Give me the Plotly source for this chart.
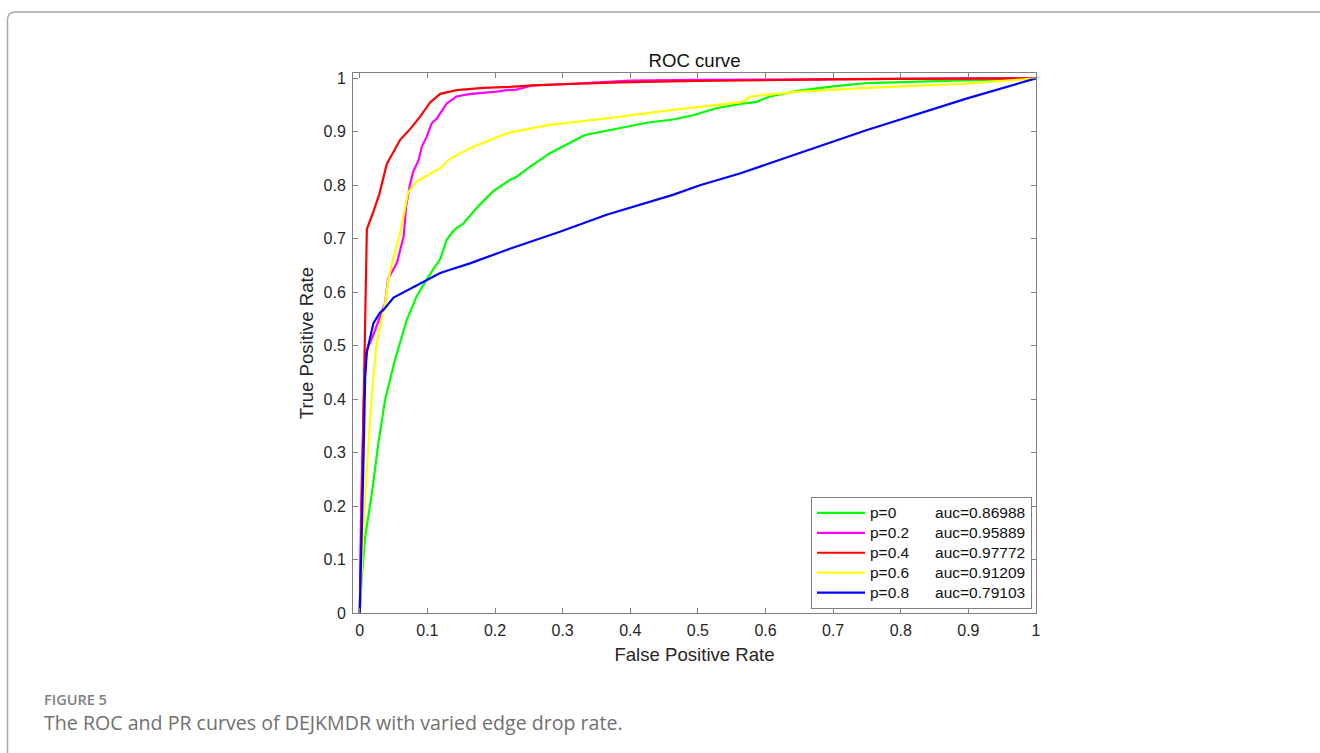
import plotly.graph_objects as go

# ---------------- data ----------------
labels = ["p=0", "p=0.2", "p=0.4", "p=0.6", "p=0.8"]
aucs = ["0.86988", "0.95889", "0.97772", "0.91209", "0.79103"]
colors = ["#00ff00", "#ff00ff", "#ff0000", "#ffff00", "#0000ff"]

fpr_p0 = [0, 0.003, 0.008, 0.018, 0.0276, 0.0375, 0.052, 0.0695, 0.084, 0.1015, 0.119, 0.1286,
          0.138, 0.143, 0.153, 0.173, 0.1975, 0.222, 0.232, 0.252, 0.281, 0.308, 0.333, 0.365,
          0.3945, 0.424, 0.463, 0.493, 0.527, 0.562, 0.587, 0.606, 0.65, 0.70, 0.749, 0.847, 1.0]
tpr_p0 = [0, 0.068, 0.143, 0.224, 0.318, 0.399, 0.473, 0.548, 0.592, 0.629, 0.662, 0.698,
          0.714, 0.72, 0.728, 0.758, 0.789, 0.81, 0.816, 0.835, 0.860, 0.878, 0.894, 0.902,
          0.910, 0.917, 0.923, 0.931, 0.944, 0.952, 0.956, 0.966, 0.977, 0.985, 0.991, 0.995, 1.0]

fpr_p2 = [0, 0.002, 0.006, 0.0095, 0.02, 0.03, 0.0375, 0.042, 0.05, 0.055, 0.062, 0.065, 0.0685,
          0.074, 0.079, 0.087, 0.0917, 0.099, 0.1065, 0.114, 0.1286, 0.143, 0.16, 0.173, 0.2025,
          0.217, 0.232, 0.256, 0.3, 0.35, 0.4, 0.5, 0.6, 0.7, 0.8, 0.9, 1.0]
tpr_p2 = [0, 0.2, 0.4, 0.49, 0.52, 0.555, 0.58, 0.625, 0.642, 0.655, 0.69, 0.705, 0.76,
          0.80, 0.825, 0.847, 0.872, 0.891, 0.916, 0.925, 0.953, 0.966, 0.970, 0.972, 0.975,
          0.978, 0.979, 0.987, 0.989, 0.993, 0.996, 0.997, 0.998, 0.999, 0.999, 1.0, 1.0]

fpr_p4 = [0, 0.002, 0.005, 0.007, 0.009, 0.0105, 0.02, 0.029, 0.04, 0.05, 0.0597, 0.0744, 0.089,
          0.104, 0.119, 0.143, 0.183, 0.222, 0.256, 0.3, 0.4, 0.5, 0.6, 0.7, 0.8, 0.9, 1.0]
tpr_p4 = [0, 0.15, 0.35, 0.5, 0.65, 0.718, 0.75, 0.784, 0.840, 0.862, 0.885, 0.905, 0.928,
          0.955, 0.971, 0.978, 0.982, 0.984, 0.987, 0.989, 0.993, 0.995, 0.997, 0.998, 0.999, 1.0, 1.0]

fpr_p6 = [0, 0.0046, 0.008, 0.013, 0.018, 0.025, 0.0375, 0.0424, 0.047, 0.0597, 0.067, 0.0715,
          0.084, 0.104, 0.119, 0.1335, 0.168, 0.217, 0.227, 0.281, 0.365, 0.463, 0.503, 0.537,
          0.567, 0.577, 0.65, 0.749, 0.897, 1.0]
tpr_p6 = [0, 0.131, 0.224, 0.318, 0.411, 0.505, 0.58, 0.623, 0.651, 0.710, 0.754, 0.787,
          0.807, 0.822, 0.832, 0.850, 0.872, 0.897, 0.900, 0.913, 0.925, 0.941, 0.947, 0.952,
          0.956, 0.966, 0.975, 0.982, 0.990, 1.0]

fpr_p8 = [0, 0.003, 0.0055, 0.008, 0.0105, 0.018, 0.0202, 0.030, 0.035, 0.050, 0.079, 0.104,
          0.119, 0.1335, 0.163, 0.217, 0.296, 0.365, 0.463, 0.503, 0.562, 0.749, 0.897, 1.0]
tpr_p8 = [0, 0.131, 0.287, 0.442, 0.488, 0.530, 0.542, 0.562, 0.567, 0.590, 0.610, 0.626,
          0.636, 0.642, 0.654, 0.679, 0.713, 0.745, 0.782, 0.800, 0.822, 0.903, 0.962, 1.0]

tick_vals = [0, 0.1, 0.2, 0.3, 0.4, 0.5, 0.6, 0.7, 0.8, 0.9, 1]
tick_text = ["0", "0.1", "0.2", "0.3", "0.4", "0.5", "0.6", "0.7", "0.8", "0.9", "1"]

title_text = "ROC curve"
xlabel = "False Positive Rate"
ylabel = "True Positive Rate"
fig_label = "FIGURE 5"
caption = "The ROC and PR curves of DEJKMDR with varied edge drop rate."

# ---------------- figure ----------------
W, H = 1320, 753
L, R, T, B = 353, 284, 73, 140
PW, PH = W - L - R, H - T - B
FONT = "Liberation Sans, Arial, sans-serif"


def px_x(px):
    return (px - L) / PW


def px_y(py):
    return (H - B - py) / PH


NB = "\u00a0"
pad = {"p=0": 9, "p=0.2": 6, "p=0.4": 6, "p=0.6": 6, "p=0.8": 6}

series = [(fpr_p0, tpr_p0), (fpr_p2, tpr_p2), (fpr_p4, tpr_p4), (fpr_p6, tpr_p6), (fpr_p8, tpr_p8)]

fig = go.Figure()
for (xs, ys), lab, auc, col in zip(series, labels, aucs, colors):
    fig.add_trace(go.Scatter(
        x=xs, y=ys, mode="lines",
        line=dict(color=col, width=2.2),
        name='<span style="font-size:15.5px">' + lab + NB * pad[lab] + "auc=" + auc + "</span>",
    ))

axis_common = dict(
    tickvals=tick_vals, ticktext=tick_text,
    ticks="inside", ticklen=5, tickwidth=1, tickcolor="#808080",
    showline=True, linecolor="#808080", linewidth=1, mirror="ticks",
    showgrid=False, zeroline=False, ticklabelstandoff=3,
    tickfont=dict(family=FONT, size=16, color="#262626"),
)

fig.update_layout(
    width=W, height=H,
    margin=dict(l=L, r=R, t=T, b=B),
    paper_bgcolor="white", plot_bgcolor="white",
    title=dict(text=title_text, x=694.5 / W, xanchor="center",
               y=1 - 60 / H, yanchor="middle",
               font=dict(family=FONT, size=18.6, color="#111111")),
    xaxis=dict(range=[-0.01, 1], **axis_common,
               title=dict(text=xlabel, standoff=9,
                          font=dict(family=FONT, size=18.6, color="#262626"))),
    yaxis=dict(range=[0, 1.01], **axis_common,
               title=dict(text=ylabel, standoff=5,
                          font=dict(family=FONT, size=18.6, color="#262626"))),
    legend=dict(x=px_x(1032), xanchor="right", y=px_y(609), yanchor="bottom",
                bgcolor="white", bordercolor="#808080", borderwidth=1,
                font=dict(family=FONT, size=13, color="#111111"),
                itemwidth=48, tracegroupgap=0),
    showlegend=True,
)

# page frame (left and top border with rounded corner)
x0, yt, r = px_x(7.5), px_y(12), 8
path = (f"M {x0},{px_y(760)} L {x0},{px_y(12 + r)} "
        f"Q {x0},{yt} {px_x(7.5 + r)},{yt} L {px_x(1325)},{yt}")
fig.add_shape(type="path", path=path, xref="paper", yref="paper",
              line=dict(color="#a8a8a8", width=1.5))

fig.add_annotation(text=fig_label, xref="paper", yref="paper", x=px_x(42), y=px_y(699),
                   xanchor="left", yanchor="middle", showarrow=False,
                   font=dict(family="Open Sans, sans-serif", size=14.5, color="#808080", weight=600))
fig.add_annotation(text=caption, xref="paper", yref="paper", x=px_x(42), y=px_y(722),
                   xanchor="left", yanchor="middle", showarrow=False,
                   font=dict(family="Open Sans, sans-serif", size=19.6, color="#707070"))

fig.write_html("out.html", config={"displayModeBar": False},
               post_script="document.body.style.margin='0';")
